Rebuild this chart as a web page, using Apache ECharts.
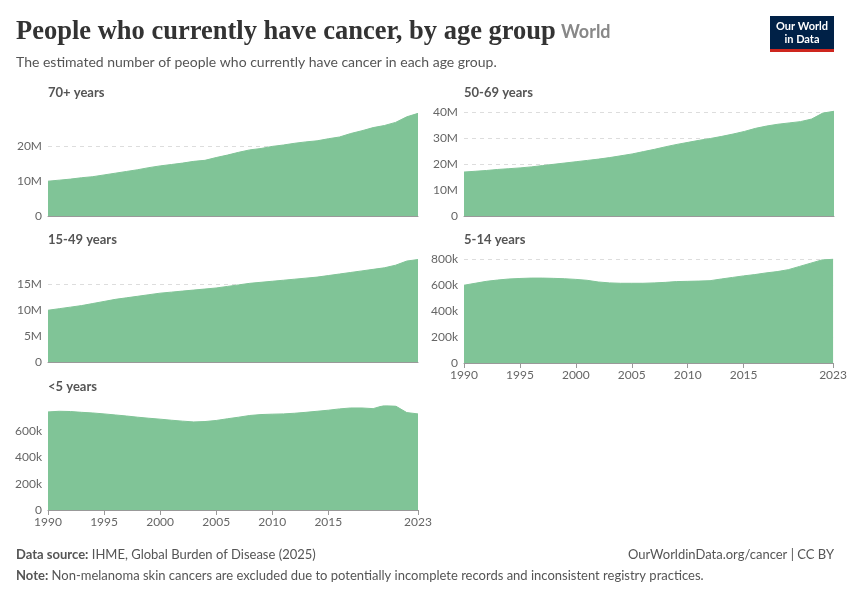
<!DOCTYPE html>
<html><head><meta charset="utf-8">
<script src="https://cdn.jsdelivr.net/npm/echarts@6/dist/echarts.min.js"></script>
<style>body{margin:0;background:#fff}#c{width:850px;height:600px}</style></head>
<body><div id="c"></div>
<script>
const years=[];for(let y=1990;y<=2023;y++)years.push(y);
const age70=[10,10.3,10.6,11,11.3,11.8,12.3,12.8,13.3,13.9,14.4,14.8,15.2,15.7,16,16.8,17.5,18.3,19,19.4,20,20.4,20.9,21.3,21.6,22.2,22.7,23.7,24.5,25.4,26,26.9,28.5,29.5];
const age50=[17,17.3,17.6,18,18.3,18.6,19,19.5,20,20.5,21,21.5,22,22.6,23.3,24,24.9,25.8,26.8,27.7,28.5,29.3,30,30.8,31.7,32.7,33.9,34.8,35.5,36,36.5,37.5,39.8,40.5];
const age15=[10,10.3,10.6,10.9,11.3,11.7,12.1,12.4,12.7,13,13.3,13.5,13.7,13.9,14.1,14.3,14.6,14.9,15.2,15.4,15.6,15.8,16,16.2,16.4,16.7,17,17.3,17.6,17.9,18.2,18.7,19.5,19.8];
const age5=[600,615,630,640,648,652,655,655,653,650,645,638,625,618,615,615,615,618,622,628,630,632,635,648,660,672,682,695,705,720,745,770,795,800];
const ageU5=[745,750,748,742,737,730,722,714,705,697,690,682,675,669,672,680,693,705,718,725,728,730,735,742,750,758,768,775,775,770,795,790,740,730];
const xTicks=[1990,1995,2000,2005,2010,2015,2023];
const M=1e6,K=1e3;
const panels=[
 {name:'70+ years',data:age70,mul:M,left:48,top:113,h:103,max:29.6*M,iv:10*M,x:false,tl:92,grid:[10,20]},
 {name:'50-69 years',data:age50,mul:M,left:464,top:110,h:106,max:41*M,iv:10*M,x:false,tl:92,grid:[10,20,30,40]},
 {name:'15-49 years',data:age15,mul:M,left:48,top:259,h:103,max:19.9*M,iv:5*M,x:false,tl:239,grid:[5,10,15]},
 {name:'5-14 years',data:age5,mul:K,left:464,top:258,h:105,max:810*K,iv:200*K,x:true,tl:239,grid:[200,400,600,800]},
 {name:'<5 years',data:ageU5,mul:K,left:48,top:406,h:104,max:790*K,iv:200*K,x:true,tl:386,grid:[200,400,600]}
];
const grid=[],xAxis=[],yAxis=[],series=[],title=[];
const fmt=v=>v===0?'0':(v>=M?(v/M)+'M':(v/K)+'k');
panels.forEach((p,i)=>{
 grid.push({left:p.left,top:p.top,width:370,height:p.h});
 xAxis.push({type:'value',gridIndex:i,min:1990,max:2023,splitLine:{show:false},
  axisLine:{show:true,lineStyle:{color:'#999'}},
  axisTick:{show:p.x,customValues:xTicks,length:5,lineStyle:{color:'#999'}},
  axisLabel:{show:p.x,customValues:xTicks,color:'#666',fontFamily:'Lato',fontSize:12,margin:6,formatter:v=>String(v)}});
 yAxis.push({type:'value',gridIndex:i,min:0,max:p.max,interval:p.iv,
  axisLine:{show:false},axisTick:{show:false},splitLine:{show:false},
  axisLabel:{showMaxLabel:false,color:'#666',fontFamily:'Lato',fontSize:12,margin:6,formatter:fmt}});
 series.push({type:'line',xAxisIndex:i,yAxisIndex:i,symbol:'none',smooth:false,
  data:years.map((y,j)=>[y,p.data[j]*p.mul]),
  lineStyle:{width:1,color:'#80c497'},areaStyle:{color:'#80c497',opacity:1},z:1,
  markLine:{silent:true,symbol:'none',label:{show:false},z:0,
   lineStyle:{color:'#ddd',type:[4,4],width:1},
   data:p.grid.map(g=>({yAxis:g*p.mul}))}});
 title.push({text:p.name,left:p.left-5,top:p.tl-11,textStyle:{fontFamily:'Lato',fontSize:13,fontWeight:'bold',color:'#555'}});
});
title.push({text:'People who currently have cancer, by age group',left:11,top:14,textStyle:{fontFamily:'Liberation Serif',fontSize:26.5,fontWeight:'bold',color:'#333'}});
title.push({text:'The estimated number of people who currently have cancer in each age group.',left:11,top:50,textStyle:{fontFamily:'Lato',fontSize:14,fontWeight:'normal',color:'#555'}});
const ch=echarts.init(document.getElementById('c'));
ch.setOption({animation:false,title,grid,xAxis,yAxis,series,
 graphic:[
  {type:'text',left:561,top:23,style:{text:'World',font:'bold 18px Lato',fill:'#888'}},
  {type:'rect',shape:{x:770,y:16,width:64,height:36},style:{fill:'#002147'}},
  {type:'rect',shape:{x:770,y:49,width:64,height:3},style:{fill:'#ce261e'}},
  {type:'text',style:{x:802,y:33,text:'Our World\nin Data',font:'bold 11px Lato',fill:'#fff',align:'center',verticalAlign:'middle',lineHeight:13}},
  {type:'text',left:16,top:548,style:{rich:{b:{font:'bold 13px Lato',fill:'#555'},n:{font:'13px Lato',fill:'#555'}},text:'{b|Data source:} {n|IHME, Global Burden of Disease (2025)}'}},
  {type:'text',right:16,top:548,style:{text:'OurWorldinData.org/cancer | CC BY',font:'13px Lato',fill:'#555'}},
  {type:'text',left:16,top:569,style:{rich:{b:{font:'bold 13px Lato',fill:'#555'},n:{font:'13px Lato',fill:'#555'}},text:'{b|Note:} {n|Non-melanoma skin cancers are excluded due to potentially incomplete records and inconsistent registry practices.}'}}
 ]});
</script></body></html>
